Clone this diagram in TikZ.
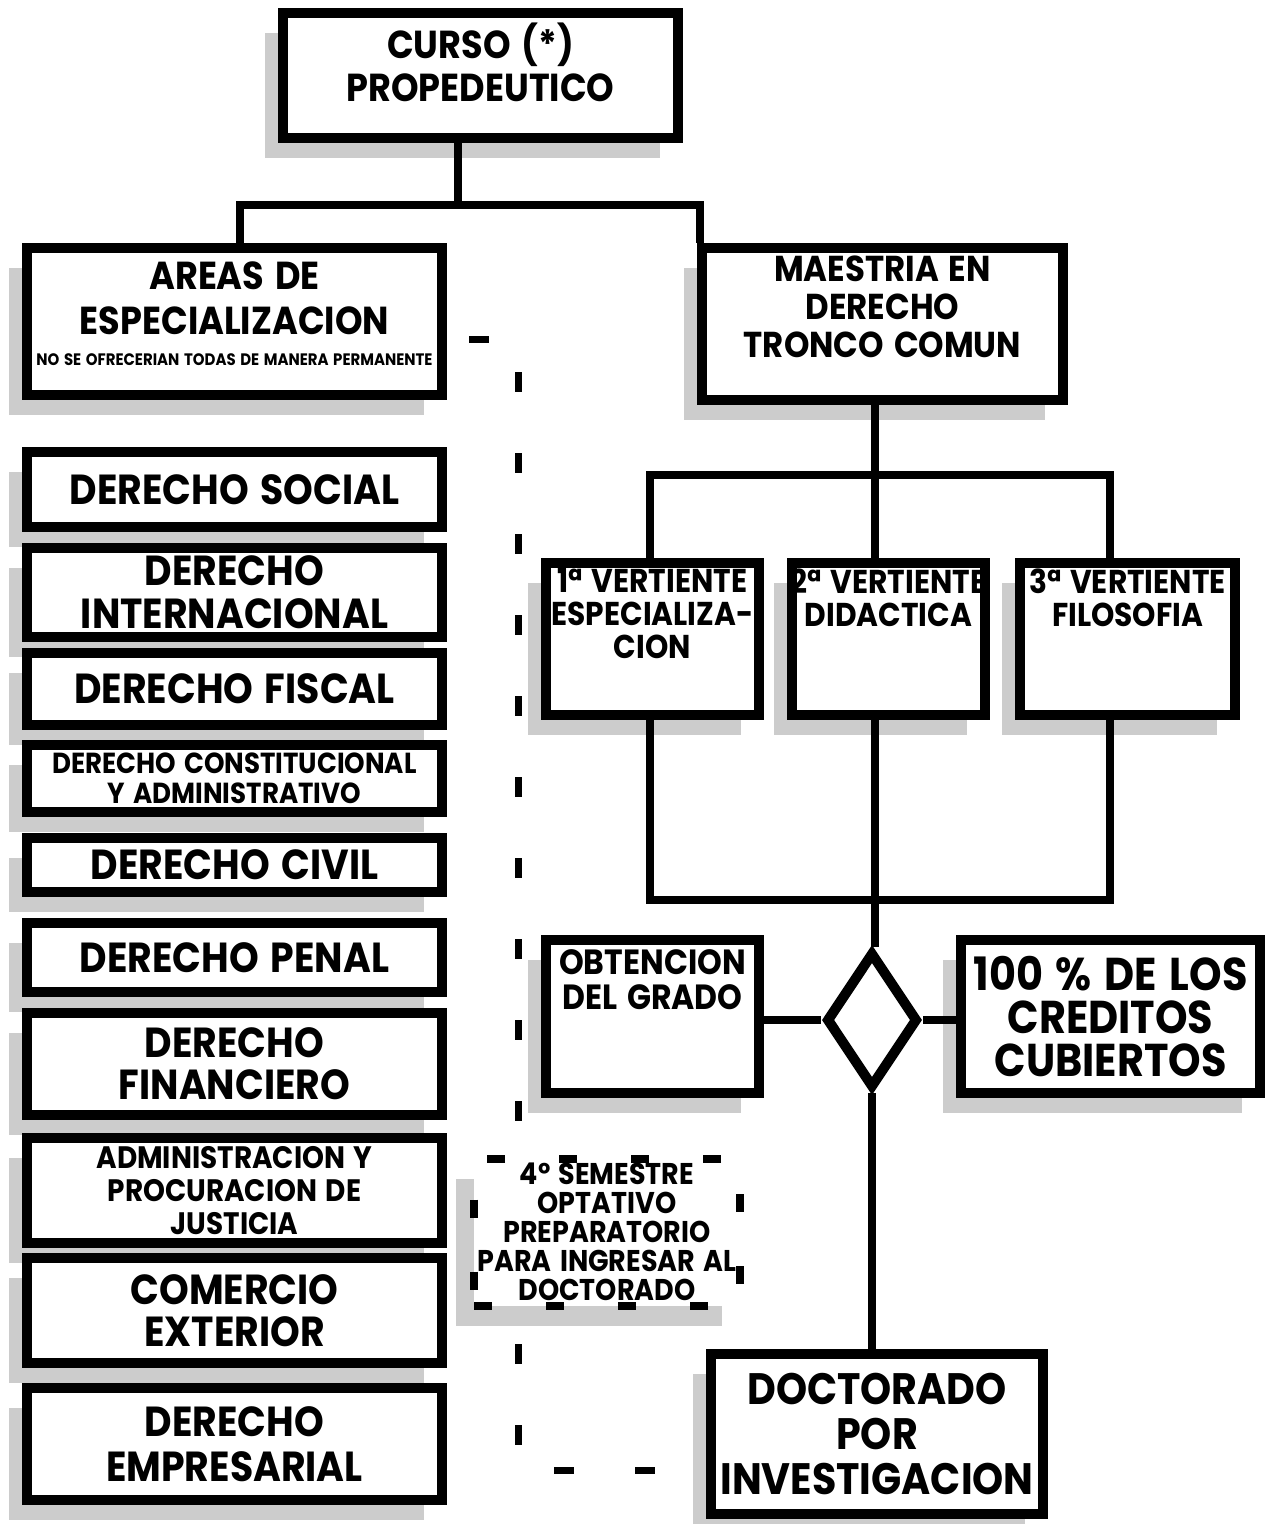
\documentclass[tikz,border=0pt]{standalone}
\usepackage{fontspec}
\setmainfont{Poppins}[FakeStretch=0.9,WordSpace=1.45]
\usetikzlibrary{positioning}
\usetikzlibrary{shapes.geometric}
\usetikzlibrary{shadows}
\newcommand\fsz[2]{\fontsize{#1}{#2}\bfseries\selectfont}
\tikzset{
  box/.style={rectangle,draw,line width=5pt,fill=white,align=center,inner sep=0pt,
    drop shadow={shadow xshift=-9pt,shadow yshift=-10pt,fill=gray!40,opacity=1}},
  area/.style={box,minimum width=207.5pt},
  wire/.style={line width=4pt},
  dashlink/.style={line width=3.5pt,dash pattern=on 10pt off 30.5pt,dash phase=29.5pt},
  dashbox/.style={box,line width=4pt,dash pattern=on 9pt off 27pt},
  txt/.style={align=center,inner sep=0pt}
}
\begin{document}
\begin{tikzpicture}[x=0.5pt,y=-0.5pt]
  \useasboundingbox (0,0) rectangle (1272,1524);
  \node(curso)[box,minimum width=197.5pt,minimum height=62.5pt] at (480.5,75.5){};
  \node[txt,below=7pt of curso.north,font=\fsz{19.5}{21.5}]{CURSO (*)\\PROPEDEUTICO};
  \node(areas)[area,minimum height=73.5pt] at (234.5,321.5){};
  \node[txt,below=9pt of areas.north,font=\fsz{19.5}{22.5}]
    {AREAS DE\\ESPECIALIZACION\\[-7pt]{\fsz{8.3}{10}NO SE OFRECERIAN TODAS DE MANERA PERMANENTE}};
  \node(social)[area,minimum height=37.5pt,font=\fsz{21}{21}] at (234.5,489.5){DERECHO SOCIAL};
  \node(inter)[area,minimum height=44.5pt,font=\fsz{21}{21.5},below=5.5pt of social]{DERECHO\\INTERNACIONAL};
  \node(fiscal)[area,minimum height=36pt,font=\fsz{21}{21},below=3pt of inter]{DERECHO FISCAL};
  \node(const)[area,minimum height=33.5pt,font=\fsz{14.5}{15},below=5pt of fiscal]{DERECHO CONSTITUCIONAL\\Y ADMINISTRATIVO};
  \node(civil)[area,minimum height=27pt,font=\fsz{21}{21},below=8pt of const]{DERECHO CIVIL};
  \node(penal)[area,minimum height=34.5pt,font=\fsz{21}{21},below=10.5pt of civil]{DERECHO PENAL};
  \node(finan)[area,minimum height=51pt,font=\fsz{21}{21},below=5.5pt of penal]{DERECHO\\FINANCIERO};
  \node(admin)[area,minimum height=52.5pt,font=\fsz{15.5}{16.5},below=6.5pt of finan]{ADMINISTRACION Y\\PROCURACION DE\\JUSTICIA};
  \node(comer)[area,minimum height=52.5pt,font=\fsz{21}{21},below=2.5pt of admin]{COMERCIO\\EXTERIOR};
  \node(empre)[area,minimum height=56pt,font=\fsz{21}{22.5},below=7.5pt of comer]{DERECHO\\EMPRESARIAL};
  \node(mae)[box,minimum width=180.5pt,minimum height=76pt] at (882.5,324){};
  \node[txt,below=6pt of mae.north,font=\fsz{18}{19}]{MAESTRIA EN\\DERECHO\\TRONCO COMUN};
  \node(v1)[box,minimum width=106.5pt,minimum height=76pt] at (652.5,639){};
  \node[txt,below=5pt of v1.north,font=\fsz{16.5}{16.5}]{1ª VERTIENTE\\ESPECIALIZA-\\CION};
  \node(v2)[box,minimum width=96.5pt,minimum height=76pt] at (888.5,639){};
  \node[txt,below=5pt of v2.north,font=\fsz{16.5}{16.5}]{2ª VERTIENTE\\DIDACTICA};
  \node(v3)[box,minimum width=107.5pt,minimum height=76pt] at (1127.5,639){};
  \node[txt,below=5pt of v3.north,font=\fsz{16.5}{16.5}]{3ª VERTIENTE\\FILOSOFIA};
  \node(obt)[box,minimum width=106.5pt,minimum height=76.5pt] at (652.5,1016.5){};
  \node[txt,below=7pt of obt.north,font=\fsz{17.5}{17.5}]{OBTENCION\\DEL GRADO};
  \node(cred)[box,minimum width=149.5pt,minimum height=76.5pt,font=\fsz{23}{21.5}] at (1110.5,1016.5){100 \% DE LOS\\CREDITOS\\CUBIERTOS};
  \node(dia)[diamond,draw,line width=5pt,fill=white,minimum width=46pt,minimum height=68pt,inner sep=0pt] at (872,1020){};
  \node(doc)[box,minimum width=166pt,minimum height=80pt,font=\fsz{22}{22.5}] at (877,1434){DOCTORADO\\POR\\INVESTIGACION};
  \coordinate(top)at(458,205);
  \coordinate(tl)at(240,205);
  \coordinate(tr)at(700,205);
  \draw[wire](curso.south -| top)--(top);
  \draw[wire](tl |- areas.north)--(tl)--(tr)--(tr |- mae.north);
  \coordinate(ml)at(650,475);
  \coordinate(mc)at(875,475);
  \coordinate(mr)at(1110,475);
  \draw[wire](mc |- mae.south)--(mc)--(mc |- v2.north);
  \draw[wire](ml |- v1.north)--(ml)--(mr)--(mr |- v3.north);
  \coordinate(bl)at(650,900);
  \coordinate(bc)at(875,900);
  \coordinate(br)at(1110,900);
  \draw[wire](bl |- v1.south)--(bl)--(br)--(br |- v3.south);
  \draw[wire](bc |- v2.south)--(bc |- dia.north);
  \draw[wire](obt.east |- dia.west)--(dia.west);
  \draw[wire](dia.east)--(cred.west |- dia.east);
  \draw[wire](dia.south)--(dia.south |- doc.north);
  \coordinate(dt)at(518,340);
  \coordinate(db)at(518,1470);
  \draw[dashlink](areas.east |- dt)--(dt)--(db)--(doc.west |- db);
  \node(sem)[dashbox,minimum width=133pt,minimum height=73.5pt,font=\fsz{15}{14.5}] at (607,1232)
    {4º SEMESTRE\\OPTATIVO\\PREPARATORIO\\PARA INGRESAR AL\\DOCTORADO};
\end{tikzpicture}
\end{document}
